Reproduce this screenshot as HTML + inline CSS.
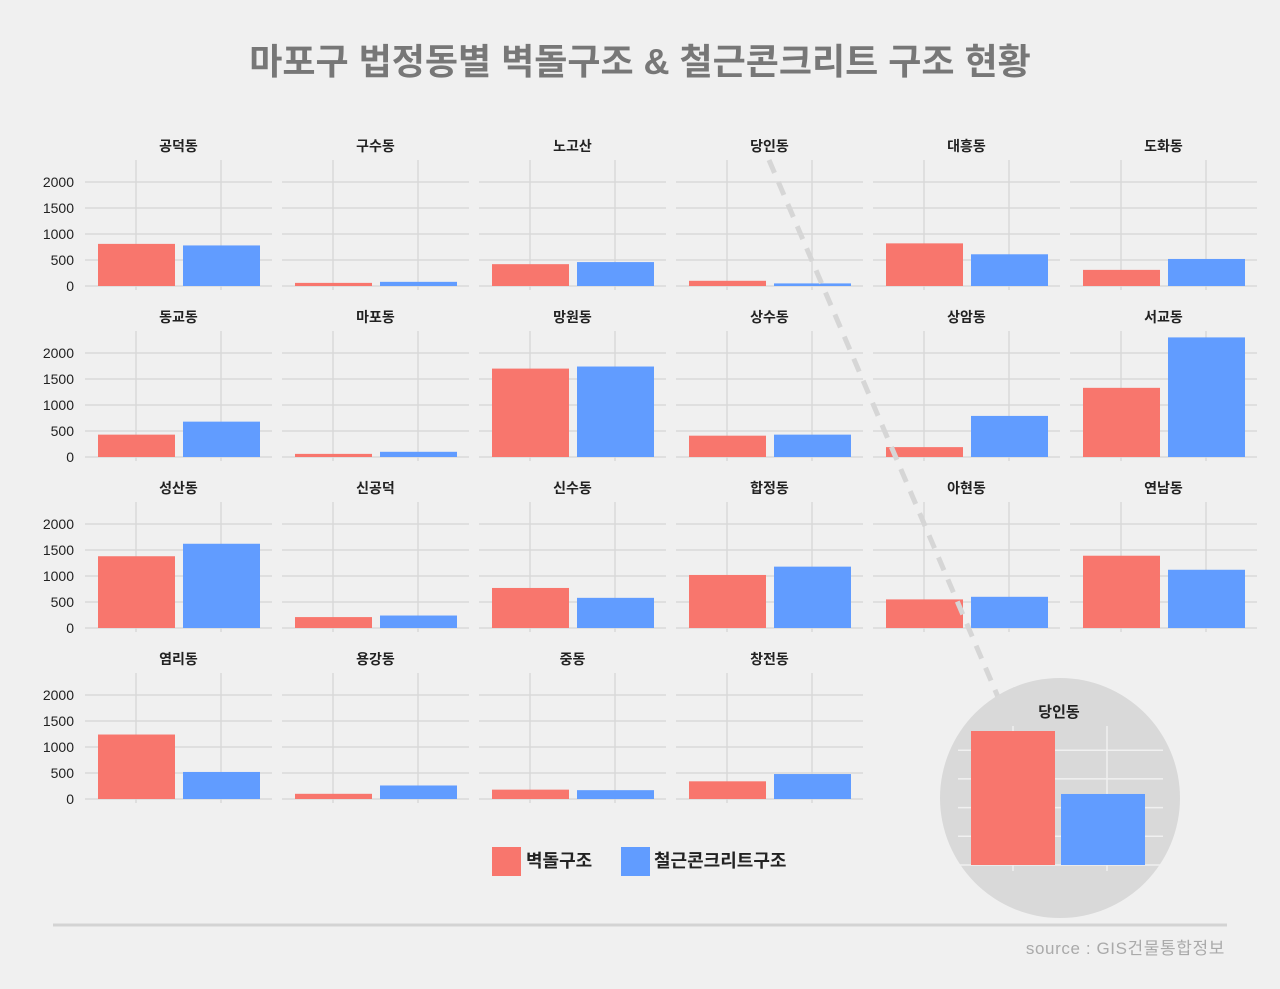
<!DOCTYPE html>
<html><head><meta charset="utf-8"><style>
body{margin:0;background:#f0f0f0;}
svg{display:block;font-family:"Liberation Sans","Noto Sans CJK KR",sans-serif;}
</style></head><body>
<svg id="c" width="1280" height="989" viewBox="0 0 1280 989">
<rect width="1280" height="989" fill="#f0f0f0"/>
<text x="640" y="74" text-anchor="middle" font-size="36" font-weight="bold" fill="#777">마포구 법정동별 벽돌구조 &amp; 철근콘크리트 구조 현황</text>
<g id="panels"></g>
<line x1="769" y1="160" x2="998" y2="697" stroke="#d6d6d6" stroke-width="5" stroke-dasharray="14,10"/>
<g id="inset"></g>
<rect x="492" y="847" width="29" height="29" fill="#F8766D"/>
<text x="526" y="867" font-size="18" font-weight="bold" fill="#222">벽돌구조</text>
<rect x="621" y="847" width="29" height="29" fill="#619CFF"/>
<text x="654" y="867" font-size="18" font-weight="bold" fill="#222">철근콘크리트구조</text>
<line x1="53" y1="925" x2="1227" y2="925" stroke="#d3d3d3" stroke-width="3"/>
<text x="1225" y="954" text-anchor="end" font-size="17" letter-spacing="0.6" fill="#aaa">source : GIS건물통합정보</text>
</svg>
<script>
const districts=["공덕동","구수동","노고산","당인동","대흥동","도화동","동교동","마포동","망원동","상수동","상암동","서교동","성산동","신공덕","신수동","합정동","아현동","연남동","염리동","용강동","중동","창전동"];
const brick=[810,60,420,100,820,310,430,60,1700,410,190,1330,1380,210,770,1020,550,1390,1240,100,180,340];
const rc=[780,80,460,50,610,520,680,100,1740,430,790,2300,1620,240,580,1180,600,1120,520,260,170,480];
const yTicks=[0,500,1000,1500,2000];
const NS="http://www.w3.org/2000/svg";
function mk(p,t,a){const e=document.createElementNS(NS,t);for(const k in a)e.setAttribute(k,a[k]);p.appendChild(e);return e;}
const G=document.getElementById('panels');
const pw=187, k=0.052;
districts.forEach((d,i)=>{
  const col=i%6,row=Math.floor(i/6);
  const x0=85+col*197, base=286+row*171;
  const y=v=>base-v*k;
  const g=mk(G,'g',{});
  
  
  yTicks.forEach(t=>{
    const l=mk(g,'line',{x1:x0,x2:x0+pw,y1:y(t),y2:y(t),stroke:'#d9d9d9','stroke-width':1.5});
    
    
    if(col===0){const tx=mk(g,'text',{x:74,y:y(t)+5,'text-anchor':'end','font-size':14,fill:'#222'});tx.textContent=t;
      
      }
  });
  [51,136].forEach(c=>{const l=mk(g,'line',{x1:x0+c,x2:x0+c,y1:base-126,y2:base+4,stroke:'#d9d9d9','stroke-width':1.5});
    
    });
  const b1=mk(g,'rect',{x:x0+13,y:y(brick[i]),width:77,height:brick[i]*k,fill:'#F8766D'});
  
  
  const b2=mk(g,'rect',{x:x0+98,y:y(rc[i]),width:77,height:rc[i]*k,fill:'#619CFF'});
  
  
  const tt=mk(g,'text',{x:x0+pw/2,y:base-135,'text-anchor':'middle','font-size':14,'font-weight':'bold',fill:'#222'});
  tt.textContent=d;
  
  
});
const I=document.getElementById('inset');
mk(I,'circle',{cx:1060,cy:798,r:120,fill:'#d9d9d9'});
const ib=865, ik=134/brick[3];
[0,1,2,3,4].forEach(j=>mk(I,'line',{x1:958,x2:1163,y1:ib-j*28.7,y2:ib-j*28.7,stroke:'#f0f0f0','stroke-width':1.5}));
[1013,1107].forEach(c=>mk(I,'line',{x1:c,x2:c,y1:726,y2:871,stroke:'#f0f0f0','stroke-width':1.5}));
const ib1=mk(I,'rect',{x:971,y:ib-brick[3]*ik,width:84,height:brick[3]*ik,fill:'#F8766D'});


const ib2=mk(I,'rect',{x:1061,y:ib-rc[3]*ik*1.06,width:84,height:rc[3]*ik*1.06,fill:'#619CFF'});


const it=mk(I,'text',{x:1059,y:717,'text-anchor':'middle','font-size':15,'font-weight':'bold',fill:'#222'});
it.textContent=districts[3];


</script>
</body></html>
